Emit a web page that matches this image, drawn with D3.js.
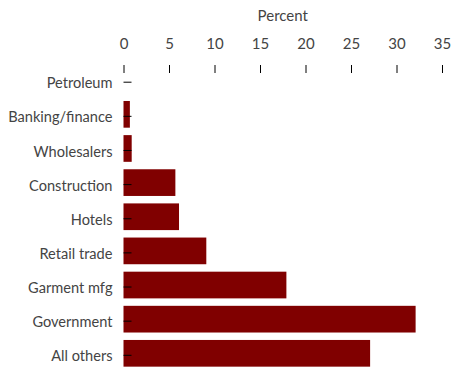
<!DOCTYPE html>
<html>
<head>
<meta charset="utf-8">
<script src="https://cdn.jsdelivr.net/npm/d3@7"></script>
<style>
  html, body { margin: 0; padding: 0; background: #fff; }
  svg { display: block; }
  text { font-family: Lato, "Open Sans", sans-serif; }
</style>
</head>
<body>
<svg id="chart" width="454" height="367"></svg>
<script>
const categories = ["Petroleum", "Banking/finance", "Wholesalers", "Construction", "Hotels", "Retail trade", "Garment mfg", "Government", "All others"];
const values = [0, 0.7, 0.9, 5.7, 6.1, 9.1, 17.9, 32.1, 27.1];
const xTicks = [0, 5, 10, 15, 20, 25, 30, 35];
const xTitle = "Percent";

const svg = d3.select("#chart");
const textColor = "#444";

const x = d3.scaleLinear().domain([0, 35]).range([123.5, 442]);
const y = d3.scaleBand().domain(categories).range([59.4, 374.1]).paddingInner(0.218).paddingOuter(0.218);

// bars
svg.append("g").selectAll("rect")
  .data(categories.map((c, i) => ({ c, v: values[i] })))
  .join("rect")
  .attr("x", x(0))
  .attr("y", d => y(d.c))
  .attr("width", d => x(d.v) - x(0))
  .attr("height", y.bandwidth())
  .attr("fill", "#800000");

// top axis
const xAxis = d3.axisTop(x).tickValues(xTicks).tickFormat(d3.format("d")).tickSizeInner(8).tickSizeOuter(0).tickPadding(16);
const gx = svg.append("g").attr("transform", "translate(0,73)").call(xAxis);
gx.select(".domain").remove();
gx.selectAll(".tick line").attr("stroke", "#000");
gx.selectAll(".tick text").attr("fill", textColor).style("font-size", "15px");

// left axis (ticks slightly below band center)
const yAxis = d3.axisLeft(y).tickSizeInner(-8).tickSizeOuter(0).tickPadding(11);
const gy = svg.append("g").attr("transform", "translate(123.5,2)").call(yAxis);
gy.select(".domain").remove();
gy.selectAll(".tick line").attr("stroke", "#000");
gy.selectAll(".tick text").attr("fill", textColor).attr("dy", "0.42em").style("font-size", "14.6px");

// title
svg.append("text")
  .attr("x", (x(0) + x(35)) / 2)
  .attr("y", 21)
  .attr("text-anchor", "middle")
  .attr("fill", textColor)
  .style("font-size", "15px")
  .text(xTitle);
</script>
</body>
</html>
